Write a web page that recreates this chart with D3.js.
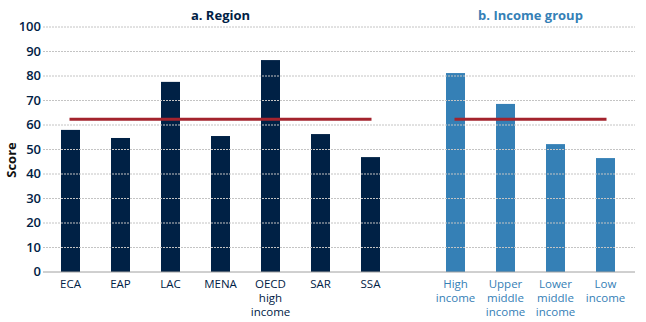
<!DOCTYPE html>
<html>
<head>
<meta charset="utf-8">
<script src="https://cdn.jsdelivr.net/npm/d3@7"></script>
<style>
  body { margin: 0; background: #fff; }
  text { font-family: "Open Sans", "Noto Sans", sans-serif; }
</style>
</head>
<body>
<svg id="chart" width="646" height="322"></svg>
<script>
const width = 646;
const height = 322;

// data
const regions = ["ECA", "EAP", "LAC", "MENA", "OECD high income", "SAR", "SSA"];
const regionScores = [58, 54.7, 77.6, 55.5, 86.5, 56.3, 46.9];
const regionAvg = 62.3;

const incomeGroups = ["High income", "Upper middle income", "Lower middle income", "Low income"];
const incomeScores = [81.2, 68.6, 52.2, 46.5];
const incomeAvg = 62.3;

const yTicks = [0, 10, 20, 30, 40, 50, 60, 70, 80, 90, 100];

const navy = "#002145";
const blue = "#3580b6";
const red = "#a3232d";

const svg = d3.select("#chart");

const plotLeft = 43, plotRight = 635;

const y = d3.scaleLinear()
    .domain([0, 100])
    .range([272, 27]);

const xRegion = d3.scaleBand()
    .domain(regions)
    .range([45.5, 395.5])
    .paddingInner(0.62)
    .paddingOuter(0.31);

const xIncome = d3.scaleBand()
    .domain(incomeGroups)
    .range([430.5, 630.5])
    .paddingInner(0.62)
    .paddingOuter(0.31);

// bars
svg.append("g").selectAll("rect")
    .data(regions)
    .enter()
    .append("rect")
    .attr("x", d => xRegion(d))
    .attr("y", (d, i) => y(regionScores[i]))
    .attr("width", xRegion.bandwidth())
    .attr("height", (d, i) => y(0) - y(regionScores[i]))
    .attr("fill", navy);

svg.append("g").selectAll("rect")
    .data(incomeGroups)
    .enter()
    .append("rect")
    .attr("x", d => xIncome(d))
    .attr("y", (d, i) => y(incomeScores[i]))
    .attr("width", xIncome.bandwidth())
    .attr("height", (d, i) => y(0) - y(incomeScores[i]))
    .attr("fill", blue);

// grid lines (drawn over the bars, as in the original)
svg.append("g").selectAll("line")
    .data(yTicks.slice(1))
    .enter()
    .append("line")
    .attr("x1", plotLeft)
    .attr("x2", plotRight)
    .attr("y1", d => y(d))
    .attr("y2", d => y(d))
    .attr("stroke", "#c4c4c4")
    .attr("stroke-width", 1)
    .attr("stroke-dasharray", "2,1");

// baseline
svg.append("line")
    .attr("x1", plotLeft)
    .attr("x2", plotRight)
    .attr("y1", y(0))
    .attr("y2", y(0))
    .attr("stroke", "#a0a0a0")
    .attr("stroke-width", 1);

// average lines
svg.append("line")
    .attr("x1", xRegion(regions[0]) + xRegion.bandwidth() / 2 - 1)
    .attr("x2", xRegion(regions[regions.length - 1]) + xRegion.bandwidth() / 2 + 1)
    .attr("y1", y(regionAvg))
    .attr("y2", y(regionAvg))
    .attr("stroke", red)
    .attr("stroke-width", 3);

svg.append("line")
    .attr("x1", xIncome(incomeGroups[0]) + xIncome.bandwidth() / 2 - 1)
    .attr("x2", xIncome(incomeGroups[incomeGroups.length - 1]) + xIncome.bandwidth() / 2 + 1)
    .attr("y1", y(incomeAvg))
    .attr("y2", y(incomeAvg))
    .attr("stroke", red)
    .attr("stroke-width", 3);

// y tick labels
svg.append("g").selectAll("text")
    .data(yTicks)
    .enter()
    .append("text")
    .attr("x", 41)
    .attr("y", d => y(d) + 4)
    .attr("text-anchor", "end")
    .style("font-size", "13px")
    .style("font-weight", 600)
    .attr("fill", navy)
    .text(d => d);

// y axis title
svg.append("text")
    .attr("transform", "translate(16,160) rotate(-90)")
    .attr("text-anchor", "middle")
    .style("font-size", "13px")
    .style("font-weight", 700)
    .attr("fill", "#111")
    .text("Score");

// category labels
function addLabels(scale, cats, color) {
    const labels = svg.append("g").selectAll("text")
        .data(cats)
        .enter()
        .append("text")
        .attr("text-anchor", "middle")
        .style("font-size", "11.5px")
        .attr("fill", color);
    labels.each(function(d) {
        const words = d === "OECD high income" ? ["OECD", "high", "income"]
            : d === "High income" ? ["High", "income"]
            : d === "Low income" ? ["Low", "income"]
            : d.split(" ");
        const cx = scale(d) + scale.bandwidth() / 2;
        words.forEach((w, i) => {
            d3.select(this).append("tspan")
                .attr("x", cx)
                .attr("y", 288 + i * 14)
                .text(w);
        });
    });
}
addLabels(xRegion, regions, navy);
addLabels(xIncome, incomeGroups, blue);

// panel titles
const regCenter = (xRegion(regions[0]) + xRegion(regions[regions.length - 1]) + xRegion.bandwidth()) / 2;
const incCenter = (xIncome(incomeGroups[0]) + xIncome(incomeGroups[incomeGroups.length - 1]) + xIncome.bandwidth()) / 2;

svg.append("text")
    .attr("x", regCenter)
    .attr("y", 20)
    .attr("text-anchor", "middle")
    .style("font-size", "13px")
    .style("font-weight", 700)
    .attr("fill", navy)
    .text("a. Region");

svg.append("text")
    .attr("x", incCenter)
    .attr("y", 20)
    .attr("text-anchor", "middle")
    .style("font-size", "13px")
    .style("font-weight", 700)
    .attr("fill", blue)
    .text("b. Income group");
</script>
</body>
</html>
